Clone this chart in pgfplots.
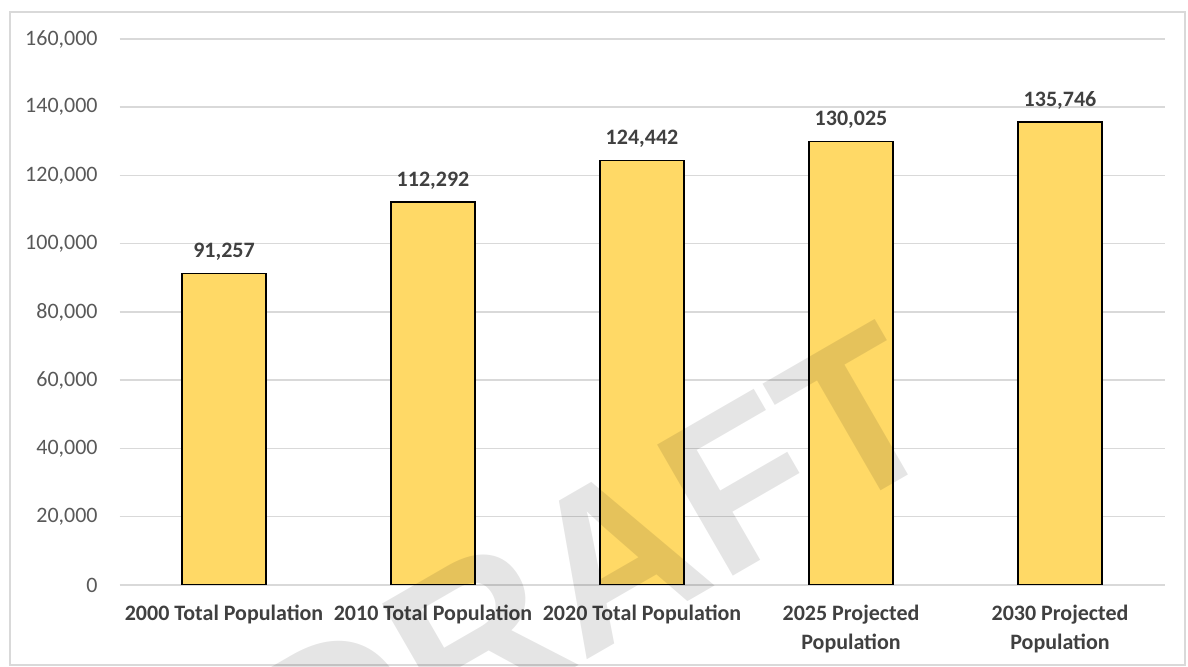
\documentclass[border=0pt]{standalone}
\usepackage{fontspec}
\setmainfont{Carlito}
\newfontfamily\wmfont{Liberation Sans}
\usepackage{pgfplots}
\pgfplotsset{compat=1.18}
\definecolor{barfill}{HTML}{FFD966}
\definecolor{gridc}{HTML}{D9D9D9}
\definecolor{ticktext}{HTML}{595959}
\definecolor{labtext}{HTML}{404040}
\begin{document}
\begin{tikzpicture}
\path[use as bounding box, fill=white] (0,0) rectangle (594pt,333.5pt);
\draw[gridc, line width=0.75pt] (5pt,1pt) rectangle (592.5pt,327.5pt);
\begin{axis}[
  at={(59.75pt,41pt)}, anchor=south west,
  width=522.5pt, height=273pt, scale only axis,
  xmin=-0.5, xmax=4.5, ymin=0, ymax=160000,
  ytick={0,20000,...,160000},
  xtick={0,1,2,3,4},
  xticklabels={{2000 Total Population},{2010 Total Population},{2020 Total Population},{2025 Projected\\Population},{2030 Projected\\Population}},
  scaled y ticks=false,
  /pgf/number format/fixed,
  /pgf/number format/precision=0,
  /pgf/number format/1000 sep={,},
  /pgf/number format/assume math mode=true,
  axis line style={draw=none},
  major tick length=0pt,
  ymajorgrids,
  grid style={gridc, line width=0.75pt},
  yticklabel style={font=\fontsize{11}{13}\selectfont, text=ticktext, inner sep=0pt, xshift=-10.75pt},
  xticklabel style={font=\bfseries\fontsize{11}{14.5}\selectfont, text=labtext, align=center, anchor=north, inner sep=0pt, yshift=-10pt},
  ybar, bar width=42pt,
  nodes near coords,
  every node near coord/.append style={font=\bfseries\fontsize{11}{13}\selectfont, text=labtext, anchor=base, inner sep=0pt, yshift=7.8pt},
]
\addplot[draw=black, fill=barfill, line width=0.75pt] coordinates {(0,91257) (1,112292) (2,124442) (3,130025) (4,135746)};
\end{axis}
\node[rotate=30, anchor=base, text=black, text opacity=0.1, font=\wmfont\bfseries\fontsize{110}{110}\selectfont] at (315.2pt,15.9pt) {DRAFT};
\end{tikzpicture}
\end{document}
